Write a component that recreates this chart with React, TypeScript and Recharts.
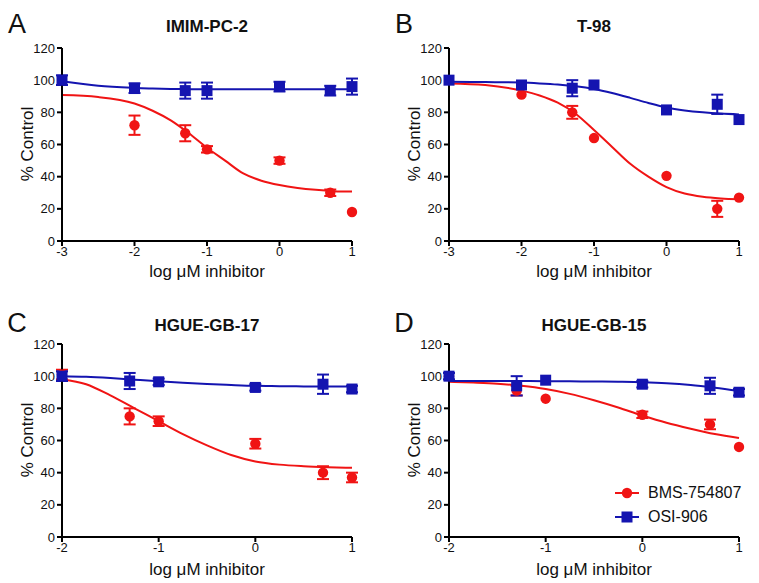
import React from 'react';
import { ComposedChart, Line, Scatter, ErrorBar, XAxis, YAxis } from 'recharts';

const RED = '#f01414';
const BLUE = '#1414b0';
const FONT = '"Liberation Sans", Arial, sans-serif';

const yTicks = [0, 20, 40, 60, 80, 100, 120];
const xTicksTop = [-3, -2, -1, 0, 1];
const xTicksBottom = [-2, -1, 0, 1];

// measured points (x = log uM, y = % control, err = SEM)
const xA = [-3, -2, -1.3, -1, 0, 0.7, 1];
const bmsAx = [-2, -1.3, -1, 0, 0.7, 1];
const bmsAy = [72, 67, 57, 50, 30, 18];
const bmsAerr = [6, 5, 2, 2, 2, 0];
const osiAy = [100, 95, 93.5, 93.5, 96, 93.5, 96];
const osiAerr = [3, 3, 5, 5, 3, 3, 5];

const bmsBy = [91, 80, 64, 40.5, 20, 27];
const bmsBerr = [0, 4, 0, 0, 5, 0];
const osiBy = [100, 97, 95, 97, 81.5, 85, 75.5];
const osiBerr = [0, 0, 5, 0, 0, 6, 0];

const xC = [-2, -1.3, -1, 0, 0.7, 1];
const bmsCy = [101, 75, 72, 58, 40, 37];
const bmsCerr = [3, 5, 3, 3, 4, 3];
const osiCy = [100, 97, 96.5, 93, 95, 92];
const osiCerr = [3, 5, 2, 2, 6, 2];

const bmsDy = [100, 91, 86, 76, 70, 56];
const bmsDerr = [0, 3, 0, 2, 3, 0];
const osiDy = [100, 94, 97.5, 95, 94, 90];
const osiDerr = [2, 6, 0, 2, 5, 2];

// fitted curves
const fitXTop = [-3, -2.5, -2, -1.75, -1.5, -1.25, -1, -0.75, -0.5, -0.25, 0, 0.25, 0.5, 0.75, 1];
const bmsFitA = [90.7, 89.5, 85.5, 81, 75, 67, 58, 50, 42, 37.5, 34.8, 33, 31.8, 31, 30.7];
const osiFitA = [99.3, 96.5, 95.2, 94.8, 94.5, 94.4, 94.3, 94.3, 94.3, 94.3, 94.3, 94.3, 94.3, 94.3, 94.3];
const bmsFitB = [98, 97, 93.5, 90.5, 86, 79, 69, 58.5, 48, 40, 33.5, 29.5, 27.5, 26.5, 26];
const osiFitB = [99, 98.8, 98.5, 98, 97.3, 96.2, 94.5, 92, 89, 85.8, 83, 81.2, 80, 79.2, 78.7];

const fitXBottom = [-2, -1.75, -1.5, -1.25, -1, -0.75, -0.5, -0.25, 0, 0.25, 0.5, 0.75, 1];
const bmsFitC = [98, 95, 88, 80, 72, 64, 57, 51, 47, 45, 44, 43.4, 43];
const osiFitC = [100, 99.6, 98.8, 97.8, 96.8, 95.9, 95.1, 94.5, 94, 93.8, 93.6, 93.5, 93.5];
const bmsFitD = [96.5, 96, 95.3, 94, 92, 89, 85, 80.5, 75.5, 71, 67.3, 64, 61.5];
const osiFitD = [97, 97, 97, 97, 96.9, 96.8, 96.7, 96.5, 96.2, 95.6, 94.5, 92.8, 90.8];

const pts = (x: number[], y: number[], err: number[]) => x.map((v, i) => ({ x: v, y: y[i], err: err[i] }));
const curve = (x: number[], y: number[]) => x.map((v, i) => ({ x: v, y: y[i] }));

const Dot = (props: any) => <circle cx={props.cx} cy={props.cy} r={5.2} fill={RED} />;
const Sq = (props: any) => <rect x={props.cx - 5.5} y={props.cy - 5.5} width={11} height={11} fill={BLUE} />;

const center = (x: number, y: number, extra: React.CSSProperties = {}): React.CSSProperties => ({
  position: 'absolute',
  left: x,
  top: y,
  transform: 'translate(-50%, -50%)',
  lineHeight: 1,
  whiteSpace: 'nowrap',
  fontFamily: FONT,
  color: '#111',
  ...extra,
});

interface PanelProps {
  left: number;
  top: number;
  letter: string;
  title: string;
  titleY: number;
  labelY: number;
  xTicks: number[];
  bms: { x: number; y: number; err: number }[];
  osi: { x: number; y: number; err: number }[];
  bmsFit: { x: number; y: number }[];
  osiFit: { x: number; y: number }[];
  legend?: boolean;
}

const Panel: React.FC<PanelProps> = ({ left, top, letter, title, titleY, labelY, xTicks, bms, osi, bmsFit, osiFit, legend }) => {
  const axisStyle = { stroke: '#000', strokeWidth: 2 };
  const tickStyle = { fill: '#111', fontSize: 13, fontFamily: FONT };
  return (
    <div style={{ position: 'absolute', left, top, width: 380, height: 287 }}>
      <ComposedChart width={380} height={287} margin={{ top: 48, right: 28, bottom: 16, left: 32 }}>
        <XAxis
          type="number"
          dataKey="x"
          domain={[xTicks[0], 1]}
          ticks={xTicks}
          height={30}
          axisLine={axisStyle}
          tickLine={axisStyle}
          tickSize={5}
          tickMargin={1}
          tick={tickStyle}
        />
        <YAxis
          type="number"
          dataKey="y"
          domain={[0, 120]}
          ticks={yTicks}
          width={30}
          axisLine={axisStyle}
          tickLine={axisStyle}
          tickSize={5}
          tickMargin={2}
          tick={tickStyle}
        />
        <Line data={bmsFit} dataKey="y" type="monotone" stroke={RED} strokeWidth={2} dot={false} isAnimationActive={false} />
        <Line data={osiFit} dataKey="y" type="monotone" stroke={BLUE} strokeWidth={2} dot={false} isAnimationActive={false} />
        <Scatter data={bms} dataKey="y" shape={Dot} isAnimationActive={false}>
          <ErrorBar dataKey="err" direction="y" width={6} stroke={RED} strokeWidth={2} />
        </Scatter>
        <Scatter data={osi} dataKey="y" shape={Sq} isAnimationActive={false}>
          <ErrorBar dataKey="err" direction="y" width={6} stroke={BLUE} strokeWidth={2} />
        </Scatter>
      </ComposedChart>
      <div style={center(17, titleY - 2, { fontSize: 27 })}>{letter}</div>
      <div style={center(207, titleY, { fontSize: 17, fontWeight: 'bold' })}>{title}</div>
      <div style={center(27, 144, { fontSize: 17, transform: 'translate(-50%, -50%) rotate(-90deg)' })}>% Control</div>
      <div style={center(207, labelY, { fontSize: 17 })}>log μM inhibitor</div>
      {legend && (
        <div style={{ position: 'absolute', left: 226, top: 185, fontFamily: FONT, fontSize: 16, color: '#111' }}>
          <div style={{ display: 'flex', alignItems: 'center', height: 24 }}>
            <svg width={28} height={14}>
              <line x1={2} x2={26} y1={7} y2={7} stroke={RED} strokeWidth={2} />
              <circle cx={14} cy={7} r={5.2} fill={RED} />
            </svg>
            <span style={{ marginLeft: 7 }}>BMS-754807</span>
          </div>
          <div style={{ display: 'flex', alignItems: 'center', height: 24 }}>
            <svg width={28} height={14}>
              <line x1={2} x2={26} y1={7} y2={7} stroke={BLUE} strokeWidth={2} />
              <rect x={8.5} y={1.5} width={11} height={11} fill={BLUE} />
            </svg>
            <span style={{ marginLeft: 7 }}>OSI-906</span>
          </div>
        </div>
      )}
    </div>
  );
};

export default function App() {
  return (
    <div style={{ position: 'absolute', left: 0, top: 0, width: 759, height: 583, background: '#fff', overflow: 'hidden' }}>
      <Panel
        left={0}
        top={0}
        letter="A"
        title="IMIM-PC-2"
        titleY={26}
        labelY={271}
        xTicks={xTicksTop}
        bms={pts(bmsAx, bmsAy, bmsAerr)}
        osi={pts(xA, osiAy, osiAerr)}
        bmsFit={curve(fitXTop, bmsFitA)}
        osiFit={curve(fitXTop, osiFitA)}
      />
      <Panel
        left={387}
        top={0}
        letter="B"
        title="T-98"
        titleY={26}
        labelY={271}
        xTicks={xTicksTop}
        bms={pts(bmsAx, bmsBy, bmsBerr)}
        osi={pts(xA, osiBy, osiBerr)}
        bmsFit={curve(fitXTop, bmsFitB)}
        osiFit={curve(fitXTop, osiFitB)}
      />
      <Panel
        left={0}
        top={296}
        letter="C"
        title="HGUE-GB-17"
        titleY={29}
        labelY={273}
        xTicks={xTicksBottom}
        bms={pts(xC, bmsCy, bmsCerr)}
        osi={pts(xC, osiCy, osiCerr)}
        bmsFit={curve(fitXBottom, bmsFitC)}
        osiFit={curve(fitXBottom, osiFitC)}
      />
      <Panel
        left={387}
        top={296}
        letter="D"
        title="HGUE-GB-15"
        titleY={29}
        labelY={273}
        xTicks={xTicksBottom}
        bms={pts(xC, bmsDy, bmsDerr)}
        osi={pts(xC, osiDy, osiDerr)}
        bmsFit={curve(fitXBottom, bmsFitD)}
        osiFit={curve(fitXBottom, osiFitD)}
        legend
      />
    </div>
  );
}
